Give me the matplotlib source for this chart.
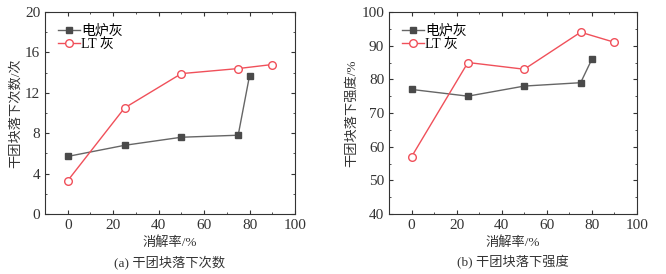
import matplotlib.pyplot as plt
from matplotlib.ticker import MultipleLocator

plt.rcParams['font.family'] = ['Liberation Serif', 'Noto Sans CJK SC']
plt.rcParams['axes.unicode_minus'] = False

# dissolution rate (x) and measurements
x_efa = [0, 25, 50, 75, 80]
x_lt = [0, 25, 50, 75, 90]
drops_efa = [5.7, 6.8, 7.6, 7.8, 13.7]
drops_lt = [3.3, 10.5, 13.9, 14.4, 14.8]
strength_efa = [77, 75, 78, 79, 86]
strength_lt = [57, 85, 83, 94, 91]

gray = '#4a4a4a'
red = '#f0505a'

fig = plt.figure(figsize=(6.66, 2.74), dpi=100)
ax1 = fig.add_axes([45 / 666, 1 - 214 / 274, 250 / 666, 202 / 274])
ax2 = fig.add_axes([389 / 666, 1 - 214 / 274, 248 / 666, 202 / 274])


def draw(ax, y_efa, y_lt, ylim, ymaj, ymin, ylabel, caption):
    ax.plot(x_efa, y_efa, color='#666666', lw=1, marker='s', ms=5,
            mfc=gray, mec=gray, label='电炉灰')
    ax.plot(x_lt, y_lt, color=red, lw=1, marker='o', ms=5.5,
            mfc='white', mec=red, label='LT 灰')
    ax.set_xlim(-10, 100)
    ax.set_ylim(*ylim)
    ax.xaxis.set_major_locator(MultipleLocator(20))
    ax.xaxis.set_minor_locator(MultipleLocator(10))
    ax.yaxis.set_major_locator(MultipleLocator(ymaj))
    ax.yaxis.set_minor_locator(MultipleLocator(ymin))
    ax.tick_params(which='both', direction='in', top=True, right=True,
                   labelsize=11, colors='#333333')
    ax.tick_params(which='major', length=3)
    ax.tick_params(which='minor', length=1.5)
    for s in ax.spines.values():
        s.set_color('#333333')
        s.set_linewidth(0.8)
    ax.set_xlabel('消解率/%', fontsize=9.5, color='#333333', labelpad=3)
    ax.set_ylabel(ylabel, fontsize=9.5, color='#333333', labelpad=2)
    ax.text(0.5, -0.24, caption, transform=ax.transAxes, ha='center',
            va='center', fontsize=9.5, color='#333333')
    ax.legend(loc='upper left', frameon=False, fontsize=10, handlelength=1.6,
              handletextpad=0.1, borderpad=0.4, labelspacing=0.0)


draw(ax1, drops_efa, drops_lt, (0, 20), 4, 2, '干团块落下次数/次', '(a) 干团块落下次数')
draw(ax2, strength_efa, strength_lt, (40, 100), 10, 5, '干团块落下强度/%', '(b) 干团块落下强度')

fig.savefig('out.png', dpi=100)
